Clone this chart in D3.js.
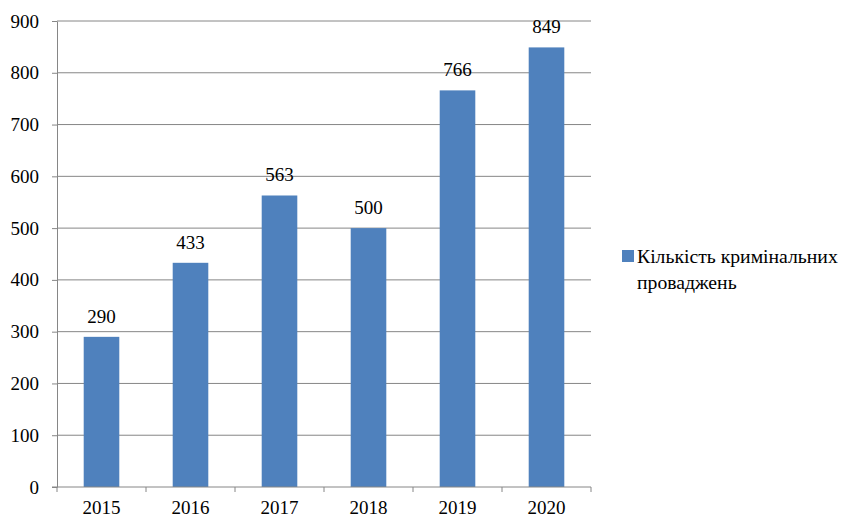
<!DOCTYPE html>
<html>
<head>
<meta charset="utf-8">
<script src="https://cdn.jsdelivr.net/npm/d3@7"></script>
<style>
  body { margin: 0; background: #fff; }
</style>
</head>
<body>
<div id="chart"></div>
<script>
const years = ["2015", "2016", "2017", "2018", "2019", "2020"]
const cases = [290, 433, 563, 500, 766, 849]
const yTicks = [0, 100, 200, 300, 400, 500, 600, 700, 800, 900]
const seriesName = ["Кількість кримінальних", "проваджень"]

const serif = "'Liberation Serif', 'Times New Roman', Times, serif"
const width = 844, height = 519
const plot = { left: 57, right: 591, top: 21, bottom: 487 }

const svg = d3.select("#chart")
    .append("svg")
    .attr("width", width)
    .attr("height", height)

const x = d3.scaleBand()
    .domain(years)
    .range([plot.left, plot.right])
    .paddingInner(0.6)
    .paddingOuter(0.3)

const y = d3.scaleLinear()
    .domain([0, 900])
    .range([plot.bottom, plot.top])

//gridlines
svg.append("g")
    .selectAll("line")
    .data(yTicks.filter(d => d > 0))
    .join("line")
    .attr("x1", plot.left)
    .attr("x2", plot.right)
    .attr("y1", d => y(d))
    .attr("y2", d => y(d))
    .attr("stroke", "#868686")
    .attr("stroke-width", 1)

//bars
svg.append("g")
    .selectAll("rect")
    .data(cases)
    .join("rect")
    .attr("x", (d, i) => x(years[i]))
    .attr("y", d => y(d))
    .attr("width", x.bandwidth())
    .attr("height", d => y(0) - y(d))
    .attr("fill", "#4F81BD")

//value labels
svg.append("g")
    .selectAll("text")
    .data(cases)
    .join("text")
    .attr("x", (d, i) => x(years[i]) + x.bandwidth() / 2)
    .attr("y", d => y(d) - 14)
    .attr("text-anchor", "middle")
    .style("font-family", serif)
    .style("font-size", "19px")
    .text(d => d)

//y axis
const yAxis = svg.append("g")
    .attr("transform", `translate(${plot.left},0)`)
    .call(d3.axisLeft(y).tickValues(yTicks).tickSize(5).tickPadding(13).tickSizeOuter(0))
yAxis.select(".domain").attr("stroke", "#868686")
yAxis.selectAll(".tick line").attr("stroke", "#868686")
yAxis.selectAll(".tick text")
    .style("font-size", "19px")
    .style("font-family", serif)
    .attr("fill", "#000")

//x axis
const xEdges = d3.scalePoint()
    .domain(d3.range(years.length + 1))
    .range([plot.left, plot.right])
const xAxis = svg.append("g")
    .attr("transform", `translate(0,${plot.bottom})`)
xAxis.append("line")
    .attr("x1", plot.left - 5)
    .attr("x2", plot.right)
    .attr("stroke", "#868686")
xAxis.selectAll("line.tk")
    .data(xEdges.domain())
    .join("line")
    .attr("class", "tk")
    .attr("x1", d => xEdges(d))
    .attr("x2", d => xEdges(d))
    .attr("y1", 0)
    .attr("y2", 5)
    .attr("stroke", "#868686")
xAxis.selectAll("text")
    .data(years)
    .join("text")
    .attr("x", d => x(d) + x.bandwidth() / 2)
    .attr("y", 27)
    .attr("text-anchor", "middle")
    .style("font-family", serif)
    .style("font-size", "19px")
    .text(d => d)

//legend
const legend = svg.append("g").attr("transform", "translate(622,250)")
legend.append("rect")
    .attr("width", 12)
    .attr("height", 12)
    .attr("fill", "#4F81BD")
legend.selectAll("text")
    .data(seriesName)
    .join("text")
    .attr("x", 15)
    .attr("y", (d, i) => 13 + i * 26)
    .style("font-family", serif)
    .style("font-size", "19.7px")
    .text(d => d)
</script>
</body>
</html>
